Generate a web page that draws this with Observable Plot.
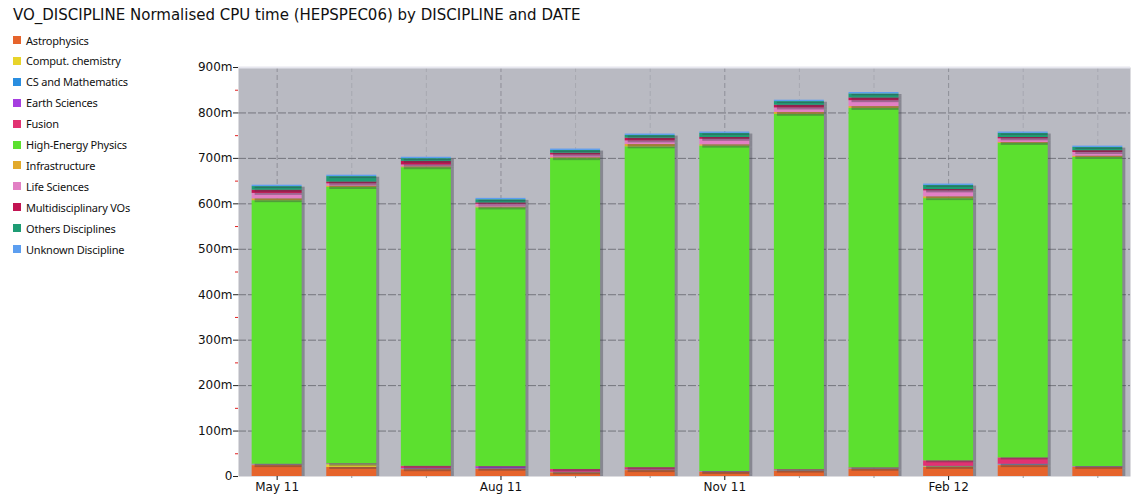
<!DOCTYPE html>
<html><head><meta charset="utf-8">
<script src="https://cdn.jsdelivr.net/npm/d3@7"></script>
<script src="https://cdn.jsdelivr.net/npm/@observablehq/plot@0.6"></script>
<style>
body{margin:0;background:#fff;}
#wrap{position:relative;width:1135px;height:497px;overflow:hidden;}
#title{position:absolute;left:13px;top:6px;font:15px "DejaVu Sans",sans-serif;color:#111;white-space:nowrap;}
.item{position:absolute;left:13px;height:14px;display:flex;align-items:center;font:11px "Noto Sans",sans-serif;color:#111;white-space:nowrap;letter-spacing:-0.2px;}
.sw{width:8px;height:8px;margin-right:5px;}
#chart{position:absolute;left:0;top:0;}
</style></head>
<body>
<div id="wrap"><div id="chart"></div><div id="title">VO_DISCIPLINE Normalised CPU time (HEPSPEC06) by DISCIPLINE and DATE</div></div>
<script>
const months = ["May 11","Jun 11","Jul 11","Aug 11","Sep 11","Oct 11","Nov 11","Dec 11","Jan 12","Feb 12","Mar 12","Apr 12"];
const xTickLabels = ["May 11","Aug 11","Nov 11","Feb 12"];
const disciplines = ["Astrophysics","Comput. chemistry","CS and Mathematics","Earth Sciences","Fusion","High-Energy Physics","Infrastructure","Life Sciences","Multidisciplinary VOs","Others Disciplines","Unknown Discipline"];
const colors = ["#e6642c","#e8d42a","#2a8ee0","#a63ee0","#e23272","#5ce02f","#e2aa2c","#e280c4","#c21452","#1e9c74","#5c9ef0"];
const yTicks = [0,100,200,300,400,500,600,700,800,900];
const yTickLabels = ["0","100m","200m","300m","400m","500m","600m","700m","800m","900m"];

// values in millions (m)
const astrophysics = [24,20,15,16,8,13,9,12,16,20,24,20];
const computChemistry = [1,6,1,0.5,0.5,0.5,0.5,0.5,0.5,1.5,1,0.5];
const csMathematics = [0.5,0.5,0.5,0.5,0.5,0.5,0.5,0.5,0.5,0.5,1,0.5];
const earthSciences = [0.5,0.5,1,4,0.5,0.5,0.5,0.5,0.5,0.5,1,0.5];
const fusion = [1,1,5,1,6,5,0.5,1.5,1.5,12,14,0.5];
const highEnergyPhysics = [580,608,657,569,684,706,716,782,791,577,692,680];
const infrastructure = [4,3,2,2,2,5,3,4,4,4,2,3];
const lifeSciences = [12,5,4,6,6,8,12,10,13,13,8,8];
const multidisciplinary = [7,4,8,3,4,6,4,6,6,3,3,4];
const othersDisciplines = [8,12,6,7,6,6,9,8,9,9,9,7];
const unknownDiscipline = [3,3,3,3,3,3,3,3,3,3,3,3];

const series = [astrophysics,computChemistry,csMathematics,earthSciences,fusion,highEnergyPhysics,infrastructure,lifeSciences,multidisciplinary,othersDisciplines,unknownDiscipline];

// tidy rows with stacked extents
const rows = [];
months.forEach((m, j) => {
  let acc = 0;
  series.forEach((s, i) => {
    rows.push({month: m, discipline: disciplines[i], value: s[j], y1: acc, y2: acc + s[j]});
    acc += s[j];
  });
});

const minorMonths = months.filter(m => !xTickLabels.includes(m));
const minorY = yTicks.map(d => d + 50).filter(d => d < 900);
const segMarks = disciplines.flatMap((d) => {
  const sub = rows.filter(r => r.discipline === d);
  return [
    Plot.barY(sub, {x: "month", y1: "y1", y2: "y2", dx: 3, dy: 2, fill: "#3c3d48", fillOpacity: 0.4, clip: true}),
    Plot.barY(sub, {x: "month", y1: "y1", y2: "y2", fill: "discipline"})
  ];
});

const chart = Plot.plot({
  width: 1135, height: 497,
  marginLeft: 238, marginRight: 5, marginTop: 67, marginBottom: 21,
  style: {background: "transparent", fontFamily: "DejaVu Sans, sans-serif", fontSize: "12px", color: "#111"},
  x: {type: "band", domain: months, paddingInner: 0.33, paddingOuter: 0.143, align: 0.64, round: false},
  y: {domain: [0, 900]},
  color: {domain: disciplines, range: colors},
  marks: [
    Plot.frame({fill: "#b9bac2", stroke: null}),
    Plot.ruleX(minorMonths, {stroke: "#a7a8b1", strokeDasharray: "5,3"}),
    Plot.ruleX(xTickLabels, {stroke: "#8e8f98", strokeDasharray: "5,3"}),
    Plot.ruleY(yTicks.filter(d => d > 0 && d < 900), {stroke: "#74757d", strokeDasharray: "8,2"}),
    Plot.ruleY([900], {stroke: "#e6e6ee", strokeWidth: 2}),
    ...segMarks,
    Plot.axisY({ticks: minorY, tickSize: 3, stroke: "#e02020", text: null, label: null}),
    Plot.axisY({ticks: yTicks, tickSize: 5, tickPadding: 1, tickFormat: (d) => yTickLabels[yTicks.indexOf(d)], line: true, stroke: "#222", fill: "#111", fontSize: 12, label: null}),
    Plot.axisX({ticks: xTickLabels, tickSize: 4, tickPadding: 2, line: true, stroke: "#111", fill: "#111", fontSize: 12, label: null}),
    Plot.axisX({ticks: minorMonths, tickSize: 2, text: null, stroke: "#999", label: null})
  ]
});
document.getElementById("chart").appendChild(chart);

const wrap = document.getElementById("wrap");
disciplines.forEach((d, i) => {
  const it = document.createElement("div");
  it.className = "item";
  it.style.top = (33 + i * 20.9) + "px";
  it.innerHTML = `<span class="sw" style="background:${colors[i]}"></span><span>${d}</span>`;
  wrap.appendChild(it);
});
</script>
</body></html>
